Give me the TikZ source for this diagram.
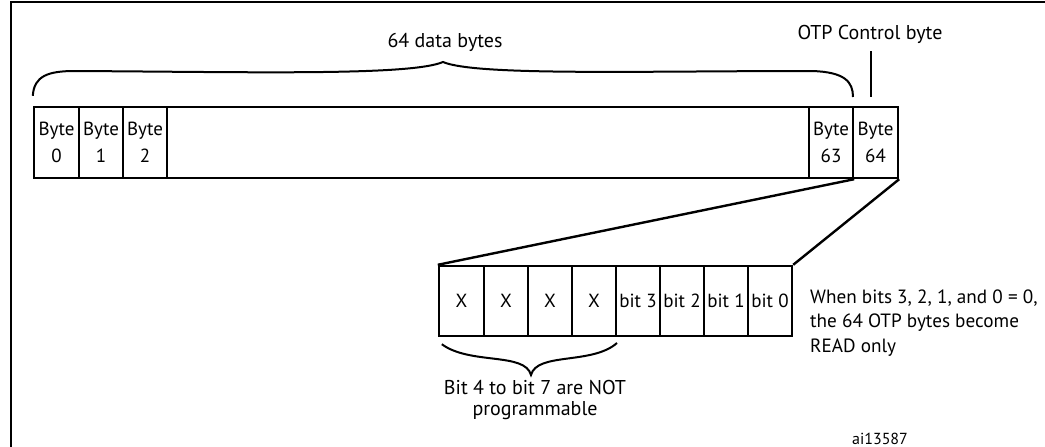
\documentclass[tikz,border=0pt]{standalone}
\usepackage{fontspec}
\setmainfont{PT Sans}
\begin{document}
\begin{tikzpicture}[x=1pt,y=-1pt,line width=2.4pt,
    cell/.style={draw,inner sep=0pt,minimum height=71pt,align=center,
      font=\fontsize{19}{27}\selectfont},
    bitcell/.style={cell,minimum width=44pt,minimum height=70pt},
    lbl/.style={inner sep=0pt,align=center,font=\fontsize{20}{21.5}\selectfont}]
  \useasboundingbox (0,0) rectangle (1045,447);
  \draw[line width=2pt] (10.5,447) -- (10.5,1.5) -- (1045,1.5);
  \draw
    (56.5,142.5) node[cell,minimum width=45pt] (b0){Byte\\0}
    (101,142.5) node[cell,minimum width=44pt] (b1){Byte\\1}
    (145,142.5) node[cell,minimum width=44pt] (b2){Byte\\2}
    (488,142.5) node[cell,minimum width=642pt] (gap){}
    (831,142.5) node[cell,minimum width=44pt] (b63){Byte\\63}
    (875.5,142.5) node[cell,minimum width=45pt] (b64){Byte\\64};
  \draw
    (461.5,301) node[bitcell,minimum width=45pt] (x7){X}
    (506,301) node[bitcell] (x6){X}
    (550,301) node[bitcell] (x5){X}
    (594,301) node[bitcell] (x4){X}
    (638,301) node[bitcell] (bit3){bit 3}
    (682,301) node[bitcell] (bit2){bit 2}
    (726,301) node[bitcell] (bit1){bit 1}
    (770,301) node[bitcell] (bit0){bit 0};
  \node[lbl] (data) at (445,42) {64 data bytes};
  \node[lbl] (otp) at (870,34) {OTP Control byte};
  \node[lbl] (prog) at (535,400) {Bit 4 to bit 7 are NOT\\programmable};
  \node[lbl,anchor=west,align=left,font=\fontsize{19.2}{24.5}\selectfont] (note) at (809,323)
    {When bits 3, 2, 1, and 0 = 0,\\the 64 OTP bytes become\\READ only};
  \node[lbl,font=\fontsize{16}{18}\selectfont] (fig) at (880,439) {ai13587};
  \coordinate (ctl) at (871,97);
  \begin{scope}[line width=2pt]
    \draw (otp.south -| ctl) ++(0,7) -- (ctl);
    \draw (b0.north west) ++(0,-10) .. controls (34,76) and (48,71) .. (75,71)
      .. controls (250,72) and (410,76) .. (443,62)
      .. controls (476,76) and (640,71) .. (812,71)
      .. controls (845,72) and (853,82) .. (853,97);
    \draw (x7.south west) ++(4,7) .. controls (470,365) and (525,352) .. (531,375)
      .. controls (537,352) and (592,365) .. (617,343);
  \end{scope}
  \draw (b63.south east) -- (x7.north west);
  \draw (b64.south east) -- (bit0.north east);
\end{tikzpicture}
\end{document}
